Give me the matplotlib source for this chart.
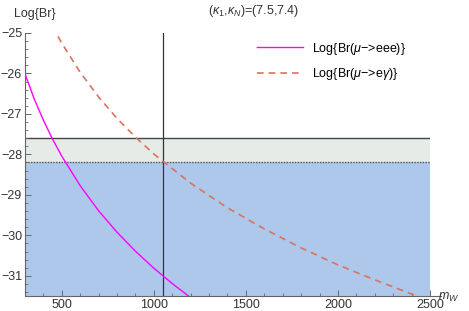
import matplotlib
matplotlib.use('Agg')
import matplotlib.pyplot as plt
from matplotlib.ticker import MultipleLocator

plt.rcParams['font.family'] = ['Liberation Sans', 'DejaVu Sans']
plt.rcParams['mathtext.fontset'] = 'custom'
plt.rcParams['mathtext.rm'] = 'Liberation Sans'
plt.rcParams['mathtext.it'] = 'Liberation Sans:italic'

# curves
mw_eee = [300, 350, 400, 450, 500, 600, 700, 800, 900, 1000, 1100, 1200]
br_eee = [-26.00, -26.62, -27.15, -27.62, -28.04, -28.77, -29.39, -29.92, -30.39, -30.81, -31.19, -31.54]

mw_egam = [450, 500, 600, 700, 800, 900, 1000, 1200, 1400, 1600, 1800, 2000, 2200, 2400, 2500]
br_egam = [-24.83, -25.25, -25.97, -26.58, -27.11, -27.57, -27.99, -28.71, -29.32, -29.84,
           -30.31, -30.73, -31.10, -31.45, -31.61]

# limits / bounds
bound_upper = -27.6
bound_lower = -28.18
mw_mark = 1050
xmin, xmax = 300, 2500
ymin, ymax = -31.5, -25

fig = plt.figure(figsize=(4.69, 3.11), dpi=100)
ax = fig.add_axes([0.053, 0.048, 0.864, 0.846])
ax.set_xlim(xmin, xmax)
ax.set_ylim(ymin, ymax)

ax.axhspan(bound_lower, bound_upper, color='#e5ece8', lw=0, zorder=0)
ax.axhspan(ymin, bound_lower, color='#aec8ec', lw=0, zorder=0)
ax.axhline(bound_upper, color='#444444', lw=1.0, zorder=1)
ax.axhline(bound_lower, color='#555555', lw=1.0, ls=(0, (1, 1)), zorder=1)
ax.axvline(mw_mark, color='#333333', lw=0.9, zorder=1)

ax.plot(mw_eee, br_eee, color='#ff00ff', lw=1.0, zorder=3,
        label=r'Log{Br($\mu$$-$>eee)}')
ax.plot(mw_egam, br_egam, color='#d9735f', lw=1.2, ls=(0, (4, 3)), zorder=3,
        label=r'Log{Br($\mu$$-$>e$\gamma$)}')

for s in ['top', 'right']:
    ax.spines[s].set_visible(False)
for s in ['left', 'bottom']:
    ax.spines[s].set_color('#666666')
    ax.spines[s].set_linewidth(0.8)
ax.spines['bottom'].set_bounds(xmin, xmax + 60)

ax.xaxis.set_major_locator(MultipleLocator(500))
ax.xaxis.set_minor_locator(MultipleLocator(100))
ax.yaxis.set_major_locator(MultipleLocator(1))
ax.yaxis.set_minor_locator(MultipleLocator(0.2))
ax.tick_params(direction='in', length=4, width=0.7, color='#666666',
               labelsize=9, labelcolor='#333333', pad=2)
ax.tick_params(which='minor', direction='in', length=2, width=0.6, color='#666666')
ax.set_xticks([500, 1000, 1500, 2000, 2500])
ax.set_xticklabels(['500', '1000', '1500', '2000', '2500'])
ax.set_yticks([-31, -30, -29, -28, -27, -26, -25])
ax.set_yticklabels(['\u221231', '\u221230', '\u221229', '\u221228', '\u221227', '\u221226', '\u221225'])

fig.text(0.075, 0.955, 'Log{Br}', fontsize=9, color='#333333', ha='center', va='center')
fig.text(0.98, 0.045, r'$m_W$', fontsize=9, color='#333333', ha='right', va='center')
fig.text(0.54, 0.965, r'($\kappa_1$,$\kappa_N$)=(7.5,7.4)', fontsize=9,
         color='#333333', ha='center', va='center')

ax.legend(loc='upper left', bbox_to_anchor=(0.56, 0.99), frameon=False, fontsize=9,
          handlelength=3.7, labelspacing=0.75, handletextpad=0.7, borderaxespad=0)

fig.savefig('out.png', dpi=100)
